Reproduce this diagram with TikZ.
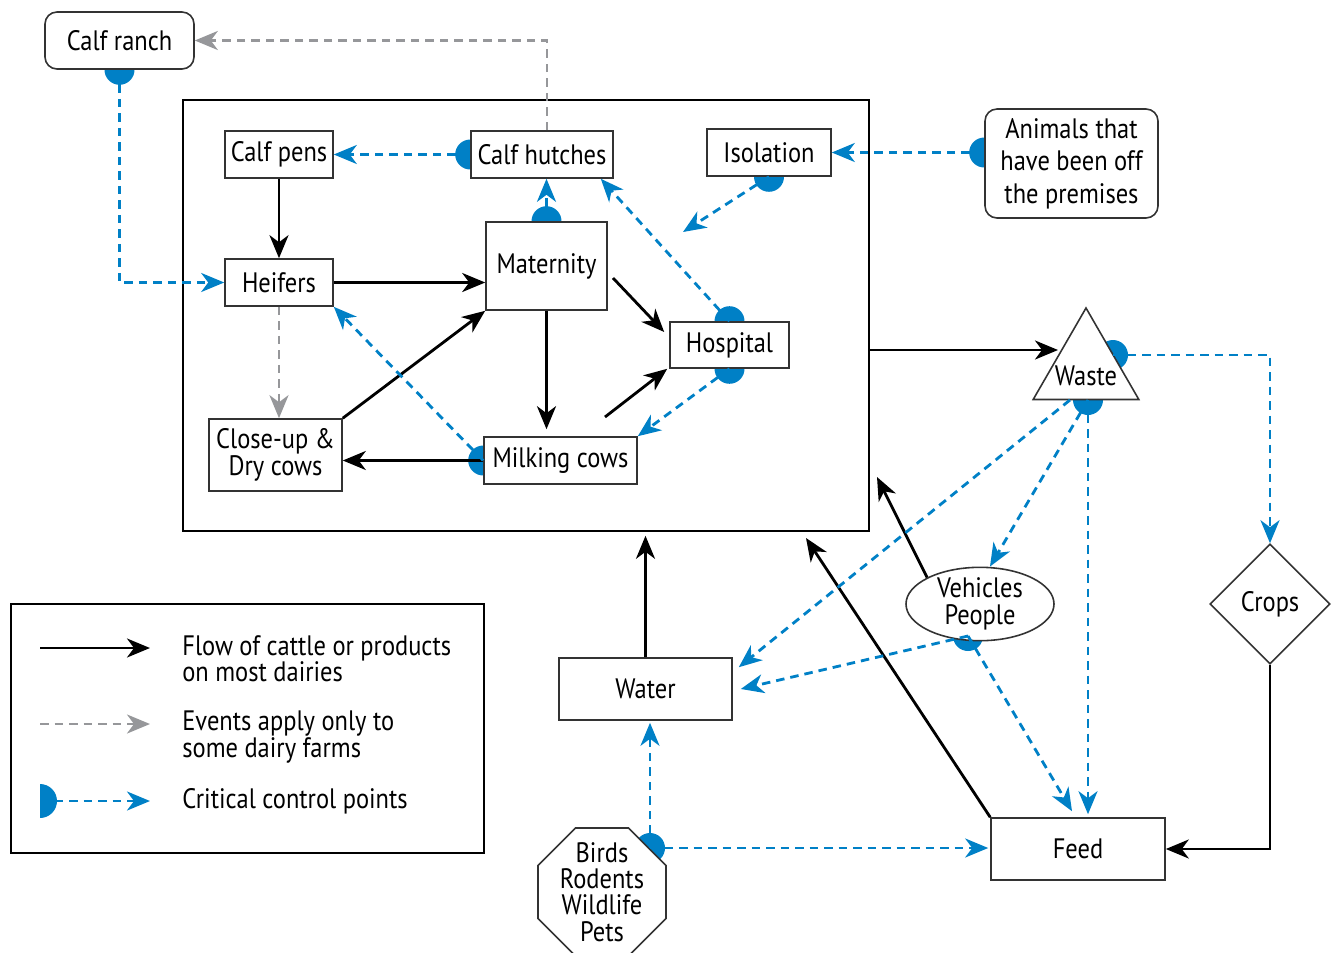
\documentclass[tikz,border=0pt]{standalone}
\usepackage{fontspec}
\setmainfont{PT Sans}[FakeStretch=0.87]
\usepackage{tikz}
\usetikzlibrary{arrows.meta}
\usetikzlibrary{shapes.geometric}
\usetikzlibrary{backgrounds,calc}
\definecolor{ccpblue}{RGB}{0,128,198}
\definecolor{optgray}{RGB}{150,151,154}
\tikzset{>={Stealth[length=4.6mm,width=3.8mm,inset=1.4mm]}}
\tikzstyle{box} = [draw=black!80, line width=0.9pt, fill=white,
    inner sep=0pt, align=center]
\tikzstyle{rbox} = [box, rounded corners=2.4mm]
\tikzstyle{cattle} = [->, line width=1.6pt]
\tikzstyle{optional} = [->, draw=optgray, line width=1.6pt,
    dash pattern=on 1.7mm off 1.2mm]
\tikzstyle{ccpline} = [->, draw=ccpblue, line width=1.6pt,
    dash pattern=on 1.7mm off 1.2mm]

\begin{document}
\begin{tikzpicture}[x=0.2mm,y=-0.2mm,
    every node/.style={font=\fontsize{16}{15}\selectfont}]
\useasboundingbox (0,0) rectangle (1335,952);
%the dairy
\node[draw, line width=0.9pt, minimum width=137.2mm, minimum height=86.2mm] (farm) at (526,315.5) {};
\node[box, minimum width=21.6mm, minimum height=9.4mm] (pens) at (279,154.5) {Calf pens};
\node[box, minimum width=28.4mm, minimum height=9.4mm] (hutches) at (542,154.5) {Calf hutches};
\node[box, minimum width=24.8mm, minimum height=9.4mm] (isol) at (769,152.5) {Isolation};
\node[box, minimum width=21.6mm, minimum height=9.4mm] (heifers) at (279,282.5) {Heifers};
\node[box, minimum width=24.2mm, minimum height=17.6mm] (matern) at (546.5,266) {Maternity};
\node[box, minimum width=23.8mm, minimum height=9.2mm] (hosp) at (729.5,345) {Hospital};
\node[box, minimum width=26.6mm, minimum height=14.4mm] (closeup) at (275.5,455) {Close-up \&\\Dry cows};
\node[box, minimum width=30.6mm, minimum height=9.4mm] (milking) at (560.5,460.5) {Milking cows};
%outside the dairy
\node[rbox, minimum width=29.8mm, minimum height=11.4mm] (ranch) at (119.5,40.5) {Calf ranch};
\node[rbox, minimum width=34.6mm, minimum height=21.8mm,
    font=\fontsize{16}{18.5}\selectfont] (offsite) at (1071.5,163.5) {Animals that\\have been off\\the premises};
\node[box, regular polygon, regular polygon sides=3, minimum size=24.4mm] (waste) at (1086,369) {\raisebox{-3.2mm}[0pt][0pt]{\makebox[0pt]{Waste}}};
\node[box, diamond, minimum width=24mm, minimum height=24mm] (crops) at (1270,604) {Crops};
\node[box, ellipse, minimum width=29.6mm, minimum height=12.8mm] (vehic) at (980,604) {Vehicles\\People};
\node[box, minimum width=34.6mm, minimum height=12.4mm] (water) at (645.5,689) {Water};
\node[box, minimum width=34.8mm, minimum height=12.4mm] (feed) at (1078,849) {Feed};
\node[box, regular polygon, regular polygon sides=8, inner sep=-3mm,
    minimum size=27.7mm] (birds) at (602,892) {Birds\\Rodents\\Wildlife\\Pets};

%critical control points
\coordinate (offP) at (offsite.west |- isol.east);
\coordinate (wasteR) at (1113,355);
\coordinate (wasteB) at (1088,400);
\coordinate (vehicB) at (968,636);
\coordinate (birdsP) at (650,848);
\begin{pgfonlayer}{background}
\foreach \p in {ranch.south, hutches.west, matern.north, isol.south, offP,
    hosp.north, hosp.south, milking.west, wasteR, wasteB, vehicB, birdsP}
    {\fill[ccpblue] (\p) circle (3mm);}
\end{pgfonlayer}

%free ends
\coordinate (m2h) at (613,278);
\coordinate (c2h) at (605,417);
\coordinate (wasteIn) at (1058,350);
\coordinate (f2d) at (806,538);
\coordinate (v2d) at (877,477);
\coordinate (i2d) at (683,232);

%flow of cattle or products
\draw[cattle] (pens) -- (heifers);
\draw[cattle] (heifers.east) -- (matern.west |- heifers.east);
\draw[cattle, shorten >=1.4mm] (matern.south) -- (matern.south |- milking.north);
\draw[cattle] (milking.west) -- (closeup.east |- milking.west);
\draw[cattle] (closeup.north east) -- (matern.south west);
\draw[cattle] (m2h) -- ([shift={(-1mm,2.6mm)}]hosp.west);
\draw[cattle] (c2h) -- ([xshift=-0.4mm]hosp.south west);
\draw[cattle] (farm.east |- wasteIn) -- (wasteIn);
\draw[cattle, shorten >=0.8mm] (water.north) -- (water.north |- farm.south);
\draw[cattle] (feed.north west) -- (f2d);
\draw[cattle] (vehic.north west) -- (v2d);
\draw[cattle] (crops.south) |- (feed.east);

%only some farms
\draw[optional] ([xshift=1mm]hutches.north) |- (ranch.east);
\draw[optional] (heifers.south) -- (heifers.south |- closeup.north);

%critical control points
\draw[ccpline] (ranch.south) |- (heifers.west);
\draw[ccpline] (hutches.west) -- (pens.east);
\draw[ccpline] (matern.north) -- (matern.north |- hutches.south);
\draw[ccpline] (isol.south) -- (i2d);
\draw[ccpline] (offP) -- (isol.east);
\draw[ccpline] (hosp.north) -- ([xshift=-2.6mm]hutches.south east);
\draw[ccpline] (hosp.south) -- (milking.north east);
\draw[ccpline] (milking.west) -- (heifers.south east);
\draw[ccpline] (wasteR) -| (crops.north);
\draw[ccpline] (wasteB) -- ([xshift=2mm]vehic.north);
\draw[ccpline] (wasteB) -- ([yshift=0.6mm]wasteB |- feed.north);
\draw[ccpline] ([xshift=-3.6mm]wasteB) -- ([shift={(1.2mm,-2mm)}]water.north east);
\draw[ccpline] (vehicB) -- ([xshift=1.6mm]water.east);
\draw[ccpline] (vehicB) -- ([shift={(-1.2mm,1.2mm)}]feed.north);
\draw[ccpline] (birdsP) -- ([yshift=-0.4mm]birdsP |- water.south);
\draw[ccpline] (birdsP) -- ([xshift=-0.4mm]birdsP -| feed.west);

%legend
\node[draw, line width=0.9pt, minimum width=94.6mm, minimum height=49.8mm] (legend) at (247.5,728.5) {};
\fill[ccpblue] (40,784) arc (90:-90:3.4mm) -- cycle;
\foreach \s/\y in {cattle/648, optional/724, ccpline/801}
    {\coordinate (a\y) at (40,\y);
    \coordinate (b\y) at (150,\y);
    \draw[\s] (a\y) -- (b\y);}
\node[anchor=west, align=left, inner sep=0pt] (key1) at (182,659) {Flow of cattle or products\\on most dairies};
\node[anchor=west, align=left, inner sep=0pt] (key2) at (182,737) {Events apply only to\\some dairy farms};
\node[anchor=west, inner sep=0pt] (key3) at (182,801) {Critical control points};
\end{tikzpicture}
\end{document}
